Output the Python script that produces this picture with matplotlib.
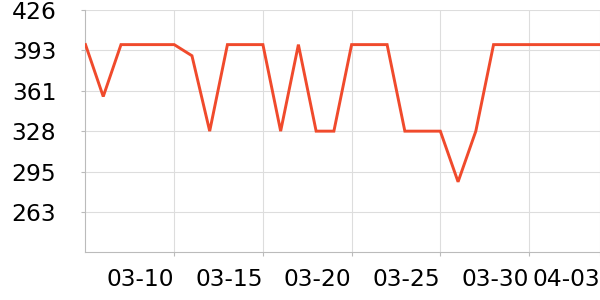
import matplotlib.pyplot as plt
import numpy as np
import pandas as pd

# daily values 03-05 .. 04-03
dates = pd.date_range('2024-03-05', '2024-04-03', freq='D')
values = [398, 356, 398, 398, 398, 398, 389, 328, 398, 398,
          398, 328, 398, 328, 328, 398, 398, 398, 328, 328,
          328, 287, 328, 398, 398, 398, 398, 398, 398, 398]
tick_dates = pd.to_datetime(['2024-03-10', '2024-03-15', '2024-03-20',
                             '2024-03-25', '2024-03-30', '2024-04-03'])
tick_labels = ['03-10', '03-15', '03-20', '03-25', '03-30', '04-03']
ymin, ymax = 230, 426

fig = plt.figure(figsize=(6, 3), dpi=100)
ax = fig.add_axes([85.5/600, 1-252.3/300, 1-85.5/600, (252.3-10)/300])

ax.plot(dates, values, color='#f04a2c', linewidth=2.1, solid_joinstyle='miter', zorder=3)

ax.set_xlim(dates[0], dates[-1])
ax.set_ylim(ymin, ymax)
yt = np.linspace(ymin, ymax, 7)[1:]
ax.set_yticks(yt)
ax.set_yticklabels([str(int(round(v))) for v in yt], fontsize=16.8)
ax.set_xticks(tick_dates)
ax.set_xticklabels(tick_labels, fontsize=16.8, ha='right')

ax.grid(True, color='#dddddd', linewidth=0.8)
ax.set_axisbelow(True)
for s in ['top', 'right']:
    ax.spines[s].set_visible(False)
for s in ['left', 'bottom']:
    ax.spines[s].set_color('#bbbbbb')
    ax.spines[s].set_linewidth(0.8)
ax.tick_params(axis='both', colors='#bbbbbb', labelcolor='black', length=3, width=0.8)
ax.tick_params(axis='y', pad=18)
ax.tick_params(axis='x', pad=8)

plt.savefig('out.png', dpi=100)
